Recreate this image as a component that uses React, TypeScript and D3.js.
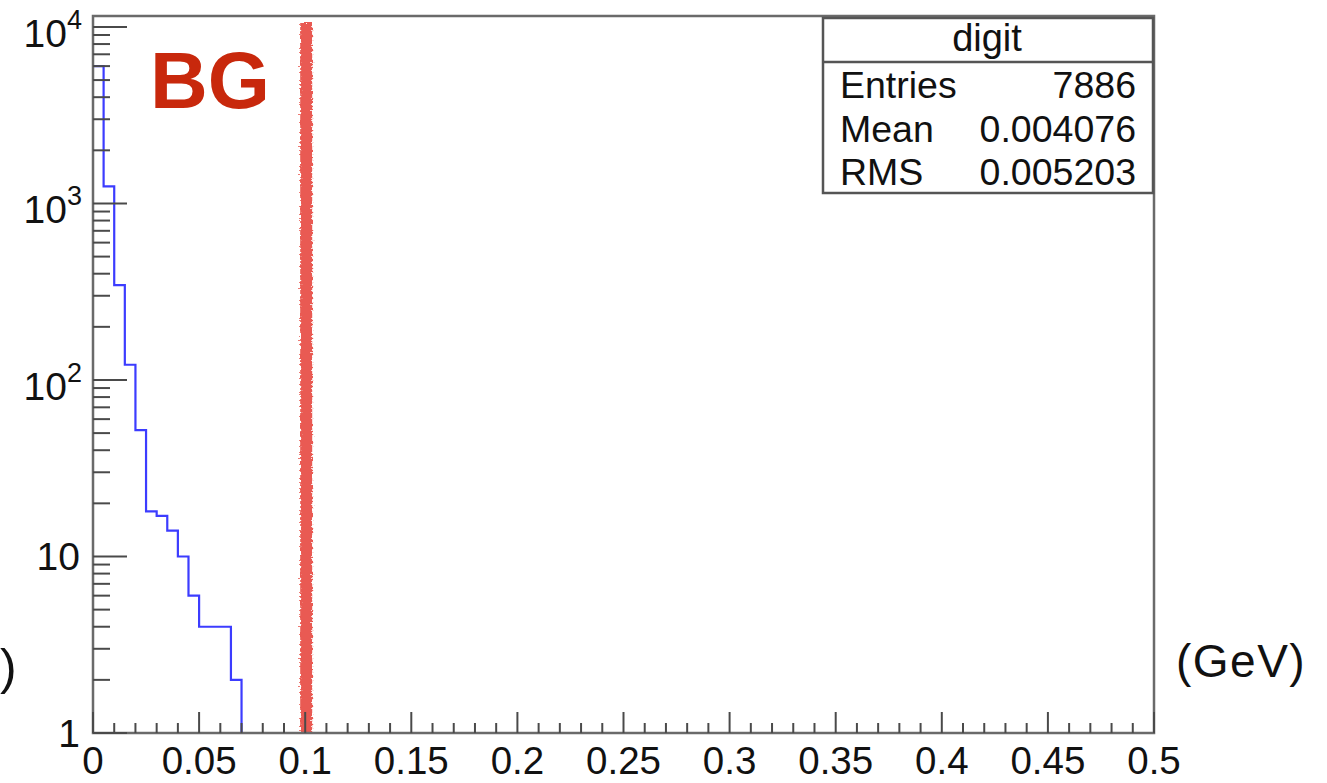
import React, { useLayoutEffect } from "react";
import * as d3 from "d3";

// ---- data ----
const binWidth = 0.005;
const counts = [6000, 1250, 345, 122, 52, 18, 17, 14, 10, 6, 4, 4, 4, 2];
const xTickValues = [0, 0.05, 0.1, 0.15, 0.2, 0.25, 0.3, 0.35, 0.4, 0.45, 0.5];
const xTickLabels = ["0", "0.05", "0.1", "0.15", "0.2", "0.25", "0.3", "0.35", "0.4", "0.45", "0.5"];
const yMajorValues = [1, 10, 100, 1000, 10000];
const yMajorBase = ["1", "10", "10", "10", "10"];
const yMajorExp = ["", "", "2", "3", "4"];
const statTitle = "digit";
const statNames = ["Entries", "Mean", "RMS"];
const statValues = ["7886", "0.004076", "0.005203"];
const cutValue = 0.1;

const W = 1327;
const H = 783;
const L = 93, R = 1154, T = 16, B = 733;

export default function App() {
  useLayoutEffect(() => {
    document.body.style.margin = "0";
  }, []);

  const x = d3.scaleLinear().domain([0, 0.5]).range([L, R]);
  const y = d3.scaleLog().domain([1, Math.pow(10, 4.062)]).range([B, T]);

  // histogram step path
  let p = `M${x(0)},${y(counts[0])}`;
  counts.forEach((c, i) => {
    if (i > 0) p += `V${y(c)}`;
    p += `H${x((i + 1) * binWidth)}`;
  });
  p += `V${B}`;

  const xMinor: number[] = d3.range(0, 51).map((i) => i * 0.01);
  const yMinor: number[] = [];
  for (let d = 0; d <= 4; d++) {
    for (let m = 2; m <= 9; m++) {
      const v = m * Math.pow(10, d);
      if (v <= y.domain()[1]) yMinor.push(v);
    }
  }

  const axisColor = "#4a4a4a";
  const font = "'Liberation Sans', Arial, Helvetica, sans-serif";

  return (
    <svg width={W} height={H} style={{ display: "block", background: "#fff" }} fontFamily={font}>
      <defs>
        <filter id="rough" x="-50%" y="-5%" width="200%" height="110%">
          <feTurbulence type="fractalNoise" baseFrequency="0.5" numOctaves="2" seed="7" result="n" />
          <feDisplacementMap in="SourceGraphic" in2="n" scale="6" xChannelSelector="R" yChannelSelector="G" />
        </filter>
      </defs>
      <rect x={0} y={0} width={W} height={H} fill="#fff" />

      {/* histogram */}
      <path d={p} fill="none" stroke="#3c3cff" strokeWidth={2.2} />

      {/* red cut line */}
      <rect x={x(cutValue) - 5} y={23} width={12} height={B - 23} fill="#e95a53" filter="url(#rough)" />

      {/* frame */}
      <rect x={L} y={T} width={R - L} height={B - T} fill="none" stroke="#6a6a6a" strokeWidth={2.5} />

      {/* x ticks */}
      {xMinor.map((v, i) => (
        <line key={"xm" + i} x1={x(v)} x2={x(v)} y1={B} y2={B - (i % 5 === 0 ? 21 : 10)} stroke={axisColor} strokeWidth={2} />
      ))}
      {xTickValues.map((v, i) => (
        <text key={"xl" + i} x={x(v)} y={774} fontSize={38.5} textAnchor="middle" fill="#111">
          {xTickLabels[i]}
        </text>
      ))}

      {/* y ticks */}
      {yMinor.map((v, i) => (
        <line key={"ym" + i} x1={L} x2={L + 17} y1={y(v)} y2={y(v)} stroke={axisColor} strokeWidth={2} />
      ))}
      {yMajorValues.map((v, i) => (
        <line key={"yM" + i} x1={L} x2={L + 34} y1={y(v)} y2={y(v)} stroke={axisColor} strokeWidth={2} />
      ))}
      {yMajorValues.map((v, i) =>
        yMajorExp[i] ? (
          <text key={"yl" + i} x={82} y={y(v) + 20} fontSize={39} textAnchor="end" fill="#111">
            <tspan>{yMajorBase[i]}</tspan>
            <tspan fontSize={27} dy={-18}>{yMajorExp[i]}</tspan>
          </text>
        ) : (
          <text key={"yl" + i} x={80} y={y(v) + 14} fontSize={39} textAnchor="end" fill="#111">
            {yMajorBase[i]}
          </text>
        )
      )}

      {/* BG label */}
      <text x={150} y={108} fontSize={80} fontWeight="bold" fill="#c8280c">BG</text>

      {/* stats box */}
      <rect x={823} y={18} width={1153 - 823} height={193 - 18} fill="#fff" stroke="#555" strokeWidth={2.5} />
      <line x1={823} x2={1153} y1={62} y2={62} stroke="#555" strokeWidth={2.5} />
      <text x={987} y={51} fontSize={38} textAnchor="middle" fill="#111">{statTitle}</text>
      {statNames.map((n, i) => (
        <g key={"st" + i}>
          <text x={840} y={98 + i * 43.5} fontSize={37.5} fill="#111">{n}</text>
          <text x={1136} y={98 + i * 43.5} fontSize={37.5} textAnchor="end" fill="#111">{statValues[i]}</text>
        </g>
      ))}

      {/* axis titles fragments */}
      <text x={0} y={684} fontSize={50} fill="#111">)</text>
      <text x={1176} y={677} fontSize={46} letterSpacing={1.5} fill="#111">(GeV)</text>
    </svg>
  );
}
